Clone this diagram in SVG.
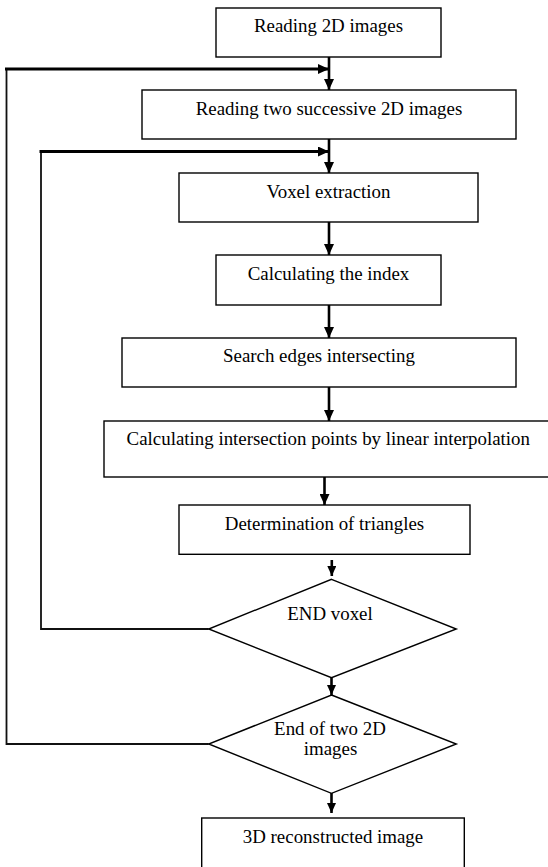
<svg xmlns="http://www.w3.org/2000/svg" width="548" height="867" viewBox="0 0 548 867">
<style>
.box{fill:#fff;stroke:#000;stroke-width:1.4}
.t{font-family:"Liberation Serif","Times New Roman",serif;font-size:18.9px;fill:#000;text-anchor:middle}
.c{fill:none;stroke:#000;stroke-width:2.6}
.thick{fill:none;stroke:#000;stroke-width:3}
.thin{fill:none;stroke:#111;stroke-width:1.8}
</style>
<defs>
<marker id="ah" markerUnits="userSpaceOnUse" markerWidth="11" markerHeight="10" refX="11" refY="5" orient="auto">
<path d="M0,0 L11,5 L0,10 z" fill="#000"/>
</marker>
<marker id="as" markerUnits="userSpaceOnUse" markerWidth="10" markerHeight="9" refX="10" refY="4.5" orient="auto">
<path d="M0,0 L10,4.5 L0,9 z" fill="#000"/>
</marker>
</defs>
<rect width="548" height="867" fill="#fff"/>
<g id="connectors">
<line class="c" x1="329" y1="57" x2="329" y2="90" marker-end="url(#ah)"/>
<polyline class="thin" points="208.7,744 6.5,744 6.5,69"/>
<line class="thick" x1="5" y1="69" x2="329" y2="69" marker-end="url(#ah)"/>
<line class="c" x1="329" y1="139" x2="329" y2="173" marker-end="url(#ah)"/>
<polyline class="thin" points="208.7,629 41,629 41,151.5"/>
<line class="thick" x1="39.5" y1="151.5" x2="329" y2="151.5" marker-end="url(#ah)"/>
<line class="c" x1="329" y1="222" x2="329" y2="255" marker-end="url(#ah)"/>
<line class="c" x1="329" y1="305" x2="329" y2="338" marker-end="url(#ah)"/>
<line class="c" x1="329" y1="387" x2="329" y2="421" marker-end="url(#ah)"/>
<line class="c" x1="324.5" y1="477" x2="324.5" y2="505" marker-end="url(#ah)"/>
<line class="c" x1="331.8" y1="560" x2="331.8" y2="576" marker-end="url(#as)"/>
<line class="c" x1="331.5" y1="678" x2="331.5" y2="695" marker-end="url(#as)"/>
<line class="c" x1="331.5" y1="793" x2="331.5" y2="813" marker-end="url(#as)"/>
</g>
<g id="n1"><rect class="box" x="216" y="8" width="225" height="49"/><text class="t" x="328.5" y="32.3">Reading 2D images</text></g>
<g id="n2"><rect class="box" x="142" y="90" width="374" height="49"/><text class="t" x="329" y="115">Reading two successive 2D images</text></g>
<g id="n3"><rect class="box" x="179" y="173" width="299" height="49"/><text class="t" x="328.5" y="198.3">Voxel extraction</text></g>
<g id="n4"><rect class="box" x="216" y="255" width="225" height="50"/><text class="t" x="328.5" y="280">Calculating the index</text></g>
<g id="n5"><rect class="box" x="122" y="338" width="394" height="49"/><text class="t" x="319" y="361.7">Search edges intersecting</text></g>
<g id="n6"><rect class="box" x="104" y="421" width="448" height="56"/><text class="t" x="328.3" y="445">Calculating intersection points by linear interpolation</text></g>
<g id="n7"><rect class="box" x="179" y="505" width="291" height="49.3"/><text class="t" x="324.5" y="530">Determination of triangles</text></g>
<g id="d1"><polygon class="box" points="331.5,579.3 456.3,629 331.5,677.7 208.7,629"/><text class="t" x="330" y="620">END voxel</text></g>
<g id="d2"><polygon class="box" points="331.5,695 456.3,744 331.5,793.3 208.7,744"/><text class="t" x="330" y="735">End of two 2D</text><text class="t" x="330.5" y="755">images</text></g>
<g id="n8"><rect class="box" x="201.7" y="818" width="262.6" height="60"/><text class="t" x="333" y="843.3">3D reconstructed image</text></g>
</svg>
